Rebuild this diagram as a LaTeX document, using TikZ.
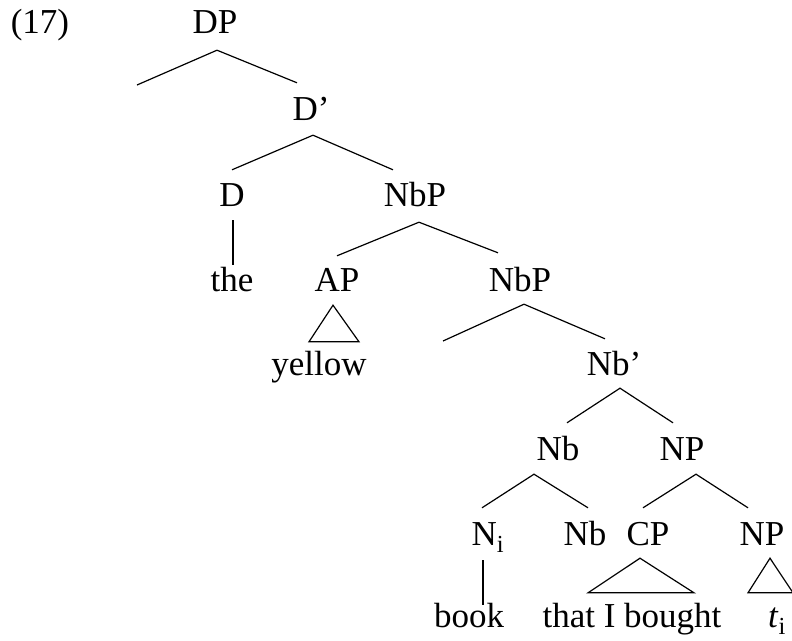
\documentclass[tikz,border=0pt]{standalone}
\usepackage{fontspec}
\setmainfont{Liberation Serif}
\usepackage{tikz}
\usetikzlibrary{positioning}
\tikzset{
    textnode/.style = {draw=none, fill=none, rectangle, inner sep=0em, node distance=0em,
      text height=24pt, text depth=7pt, font=\fontsize{35}{42}\selectfont},
    branch/.style = {black, line width=1.2pt}
}

\begin{document}
\begin{tikzpicture}
\useasboundingbox (-215pt,24.5pt) rectangle (577pt,-615.5pt);
% labels
\node[textnode, name=DP] {DP};
\node[textnode, name=ex, right of = DP, xshift=-175pt] {(17)};
\node[textnode, name=Dbar, right of = DP, xshift=96pt, yshift=-87pt] {D'};
\node[textnode, name=D, right of = Dbar, xshift=-79pt, yshift=-86pt] {D};
\node[textnode, name=NbP, right of = Dbar, xshift=104pt, yshift=-86pt] {NbP};
\node[textnode, name=the, right of = D, yshift=-85pt] {the};
\node[textnode, name=AP, right of = NbP, xshift=-78pt, yshift=-85pt] {AP};
\node[textnode, name=NbPb, right of = NbP, xshift=105pt, yshift=-85pt] {NbP};
\node[textnode, name=yellow, right of = AP, xshift=-18pt, yshift=-84pt] {yellow};
\node[textnode, name=Nbbar, right of = NbPb, xshift=94pt, yshift=-84pt] {Nb'};
\node[textnode, name=Nb, right of = Nbbar, xshift=-56pt, yshift=-85pt] {Nb};
\node[textnode, name=NP, right of = Nbbar, xshift=68pt, yshift=-85pt] {NP};
\node[textnode, name=Ni, right of = Nb, xshift=-70pt, yshift=-85pt] {N\textsubscript{i}};
\node[textnode, name=Nbb, right of = Nb, xshift=27pt, yshift=-85pt] {Nb};
\node[textnode, name=CP, right of = NP, xshift=-34pt, yshift=-85pt] {CP};
\node[textnode, name=NPb, right of = NP, xshift=80pt, yshift=-85pt] {NP};
\node[textnode, name=book, right of = Ni, xshift=-19pt, yshift=-82pt] {book};
\node[textnode, name=that, right of = CP, xshift=-16pt, yshift=-82pt] {that I bought};
\node[textnode, name=trace, right of = NPb, xshift=15pt, yshift=-82pt] {\textit{t}\textsubscript{i}};
% free ends of the left branches
\coordinate[node distance=0em, right of = DP, xshift=-78pt, yshift=-60.5pt] (DPspec);
\coordinate[node distance=0em, right of = NbPb, xshift=-77pt, yshift=-58.5pt] (NbPspec);
% branches
\draw[branch] (DPspec) -- ([xshift=2pt,yshift=-10pt]DP.south) -- ([xshift=-14pt,yshift=13pt]Dbar.north);
\draw[branch] ([yshift=12pt]D.north) -- ([xshift=2pt,yshift=-8pt]Dbar.south) -- ([xshift=-22pt,yshift=12pt]NbP.north);
\draw[branch] ([xshift=1pt,yshift=-7pt]D.south) -- ([xshift=1pt,yshift=2pt]the.north);
\draw[branch] ([yshift=11pt]AP.north) -- ([xshift=4pt,yshift=-9pt]NbP.south) -- ([xshift=-22pt,yshift=14pt]NbPb.north);
\draw[branch] (NbPspec) -- ([xshift=4pt,yshift=-6pt]NbPb.south) -- ([xshift=-9pt,yshift=12pt]Nbbar.north);
\draw[branch] ([xshift=9pt,yshift=13pt]Nb.north) -- ([xshift=6pt,yshift=-6pt]Nbbar.south) -- ([xshift=-9pt,yshift=13pt]NP.north);
\draw[branch] ([xshift=-6pt,yshift=13pt]Ni.north) -- ([xshift=-24pt,yshift=-7pt]Nb.south) -- ([xshift=3pt,yshift=13pt]Nbb.north);
\draw[branch] ([xshift=-5pt,yshift=13pt]CP.north) -- ([xshift=14pt,yshift=-7pt]NP.south) -- ([xshift=-14pt,yshift=13pt]NPb.north);
\draw[branch] ([xshift=-5pt,yshift=-8pt]Ni.south) -- ([xshift=14pt,yshift=-2pt]book.north);
% roofs
\draw[branch] ([xshift=-4pt,yshift=-7pt]AP.south) -- ([xshift=-10pt,yshift=9pt]yellow.north) -- ([xshift=40pt,yshift=9pt]yellow.north) -- cycle;
\draw[branch] ([xshift=-8pt,yshift=-6pt]CP.south) -- ([xshift=-44pt,yshift=10pt]that.north) -- ([xshift=62pt,yshift=10pt]that.north) -- cycle;
\draw[branch] ([xshift=8pt,yshift=-6pt]NPb.south) -- ([xshift=-29pt,yshift=10pt]trace.north) -- ([xshift=16pt,yshift=10pt]trace.north) -- cycle;
\end{tikzpicture}
\end{document}
